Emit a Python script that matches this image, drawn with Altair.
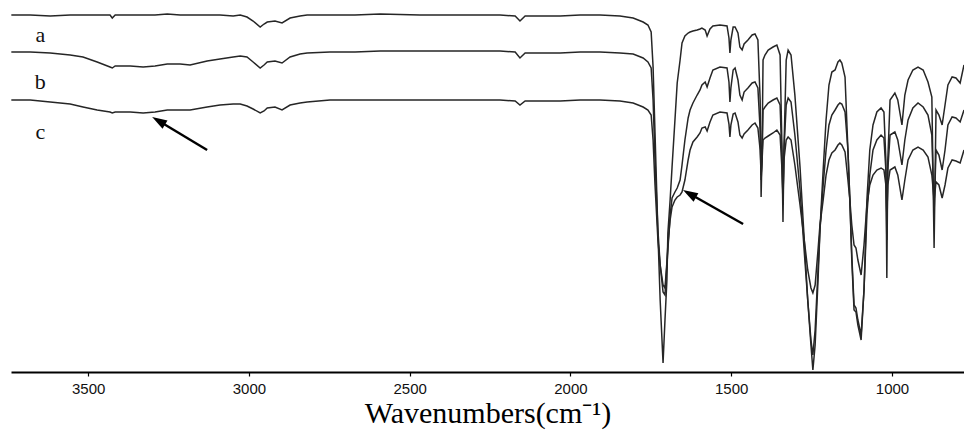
import altair as alt
import pandas as pd

# FTIR spectra of three samples (a, b, c), stacked with vertical offsets.
# Transmittance is in arbitrary units; x is wavenumber in cm-1.
wavenumber = [
    3739, 3680, 3618, 3556, 3516, 3472, 3432, 3425, 3416, 3369,
    3329, 3292, 3254, 3214, 3183, 3130, 3090, 3049, 3027, 3006,
    2987, 2965, 2953, 2943, 2919, 2897, 2872, 2841, 2819, 2748,
    2670, 2592, 2468, 2343, 2219, 2172, 2157, 2141, 2032, 1970,
    1908, 1846, 1805, 1774, 1759, 1749, 1743, 1737, 1728, 1721,
    1712, 1706, 1700, 1697, 1690, 1684, 1675, 1668, 1659, 1653,
    1644, 1634, 1628, 1619, 1606, 1597, 1591, 1581, 1575, 1566,
    1557, 1535, 1513, 1507, 1504, 1501, 1494, 1488, 1479, 1473,
    1466, 1460, 1448, 1435, 1426, 1417, 1410, 1407, 1404, 1401,
    1395, 1385, 1370, 1358, 1348, 1342, 1339, 1336, 1329, 1323,
    1314, 1302, 1286, 1271, 1262, 1252, 1246, 1239, 1230, 1224,
    1214, 1205, 1196, 1187, 1177, 1168, 1162, 1156, 1146, 1137,
    1131, 1125, 1118, 1112, 1106, 1096, 1087, 1078, 1069, 1059,
    1047, 1034, 1025, 1019, 1016, 1013, 1006, 991, 982, 969,
    960, 950, 935, 919, 903, 888, 876, 869, 863, 854,
    844, 835, 826, 813, 801, 788, 776,
]

trace_a = [
    357, 357, 356, 357, 357, 357, 357, 354, 357, 357,
    357, 357, 358, 357, 357, 357, 357, 356, 357, 355,
    351, 345, 348, 350, 351, 349, 354, 356, 357, 357,
    357, 358, 357, 357, 357, 356, 351, 356, 356, 357,
    357, 356, 354, 350, 347, 340, 305, 239, 139, 72,
    9, 52, 92, 139, 172, 205, 252, 289, 312, 329,
    336, 339, 340, 341, 342, 343, 344, 342, 336, 343,
    346, 347, 346, 334, 319, 332, 345, 345, 339, 325,
    322, 328, 332, 337, 338, 332, 272, 175, 222, 312,
    317, 322, 325, 327, 317, 222, 150, 222, 312, 322,
    317, 277, 205, 122, 72, 27, 2, 27, 92, 142,
    202, 252, 287, 300, 302, 310, 312, 309, 295, 222,
    172, 112, 62, 60, 47, 32, 82, 172, 222, 247,
    260, 264, 260, 212, 94, 212, 272, 279, 272, 247,
    277, 292, 302, 305, 302, 290, 275, 124, 262, 257,
    247, 267, 287, 295, 294, 289, 307,
]

trace_b = [
    320, 320, 319, 317, 315, 310, 305, 304, 306, 306,
    305, 306, 308, 308, 307, 311, 313, 315, 316, 315,
    310, 304, 307, 310, 311, 309, 315, 318, 319, 320,
    320, 321, 321, 321, 321, 320, 314, 319, 319, 320,
    320, 319, 318, 314, 310, 304, 272, 212, 142, 107,
    80, 77, 107, 122, 157, 174, 180, 184, 192, 207,
    232, 254, 262, 269, 277, 282, 287, 290, 285, 294,
    302, 305, 304, 290, 270, 284, 302, 304, 292, 277,
    272, 280, 284, 289, 290, 284, 242, 192, 212, 262,
    265, 269, 272, 274, 267, 212, 167, 222, 267, 274,
    270, 237, 182, 112, 72, 32, 17, 42, 102, 142,
    187, 222, 247, 257, 262, 267, 269, 268, 260, 222,
    172, 117, 67, 64, 52, 37, 82, 157, 197, 222,
    232, 237, 234, 202, 132, 202, 237, 240, 232, 207,
    232, 252, 264, 269, 265, 257, 237, 159, 222, 217,
    202, 222, 247, 255, 254, 250, 262,
]

trace_c = [
    272, 272, 270, 268, 265, 262, 260, 259, 260, 260,
    259, 260, 262, 262, 262, 265, 267, 268, 268, 266,
    263, 259, 261, 264, 265, 262, 267, 269, 270, 272,
    272, 272, 272, 272, 272, 271, 267, 271, 271, 272,
    272, 271, 269, 265, 262, 257, 232, 187, 132, 107,
    87, 84, 110, 127, 152, 165, 172, 175, 177, 180,
    192, 212, 222, 230, 235, 239, 244, 245, 241, 250,
    257, 260, 259, 248, 235, 247, 258, 259, 250, 237,
    234, 238, 242, 247, 249, 244, 222, 197, 212, 232,
    234, 236, 239, 242, 237, 202, 177, 212, 232, 235,
    232, 207, 167, 127, 102, 84, 79, 87, 122, 147,
    172, 197, 212, 219, 222, 227, 229, 227, 220, 192,
    172, 147, 127, 124, 112, 97, 127, 167, 187, 197,
    202, 204, 202, 187, 157, 187, 202, 205, 197, 172,
    192, 212, 222, 225, 222, 215, 197, 172, 190, 187,
    174, 187, 204, 212, 211, 209, 222,
]

sample_names = ["a", "b", "c"]
label_wavenumber = [3649, 3649, 3649]
label_level = [337, 290, 240]

tick_values = [3500, 3000, 2500, 2000, 1500, 1000]

# Arrow annotations: tail -> head, in data units
arrow_tail_w = [3130, 1463]
arrow_tail_t = [222, 148]
arrow_shaft_end_w = [3280, 1628]
arrow_shaft_end_t = [251, 178]
arrow_head_w = [3301, 1650]
arrow_head_t = [255, 182]
arrow_angle = [301, 300]

rows = []
for name, vals in zip(sample_names, (trace_a, trace_b, trace_c)):
    for w, t in zip(wavenumber, vals):
        rows.append({"wavenumber": w, "transmittance": t, "sample": name})
spectra = pd.DataFrame(rows)

labels = pd.DataFrame({
    "wavenumber": label_wavenumber,
    "transmittance": label_level,
    "sample": sample_names,
})

arrows = pd.DataFrame({
    "w0": arrow_tail_w, "t0": arrow_tail_t,
    "w1": arrow_shaft_end_w, "t1": arrow_shaft_end_t,
    "wh": arrow_head_w, "th": arrow_head_t,
    "angle": arrow_angle,
})

x_scale = alt.Scale(domain=[776, 3740], reverse=True, nice=False, zero=False)
y_scale = alt.Scale(domain=[0, 372], nice=False, zero=False)

x_axis = alt.Axis(
    values=tick_values,
    title="Wavenumbers(cm\u207b\u00b9)",
    format="d",
    grid=False,
    domainColor="#000000",
    domainWidth=2.2,
    tickColor="#000000",
    tickSize=4,
    tickWidth=1.2,
    labelFont="Liberation Sans",
    labelFontSize=15,
    labelColor="#111111",
    labelPadding=5,
    labelFlush=False,
    titleFont="Liberation Serif",
    titleFontSize=30,
    titleFontWeight="normal",
    titleColor="#000000",
    titlePadding=2,
)

lines = alt.Chart(spectra).mark_line(
    color="#262626", strokeWidth=1.5, clip=True
).encode(
    x=alt.X("wavenumber:Q", scale=x_scale, axis=x_axis),
    y=alt.Y("transmittance:Q", scale=y_scale, axis=None),
    detail="sample:N",
)

text = alt.Chart(labels).mark_text(
    font="Liberation Serif", fontSize=22, color="#111111",
    align="center", baseline="middle",
).encode(
    x=alt.X("wavenumber:Q", scale=x_scale),
    y=alt.Y("transmittance:Q", scale=y_scale),
    text="sample:N",
)

shafts = alt.Chart(arrows).mark_rule(color="#000000", strokeWidth=2.4).encode(
    x=alt.X("w0:Q", scale=x_scale),
    y=alt.Y("t0:Q", scale=y_scale),
    x2="w1:Q",
    y2="t1:Q",
)

heads = alt.Chart(arrows).mark_point(
    shape="M0,0 L-0.32,1 L0.32,1 Z", filled=True, color="#000000",
    size=900, opacity=1, strokeWidth=0,
).encode(
    x=alt.X("wh:Q", scale=x_scale),
    y=alt.Y("th:Q", scale=y_scale),
    angle=alt.Angle("angle:Q", scale=None),
)

chart = alt.layer(lines, text, shafts, heads).properties(
    width=953,
    height=372,
    padding={"left": 11, "top": 0, "right": 0, "bottom": 61},
    autosize=alt.AutoSizeParams(type="none"),
    background="#ffffff",
).configure_view(stroke=None)

chart.save("out.html", embed_options={"renderer": "svg", "actions": False})
